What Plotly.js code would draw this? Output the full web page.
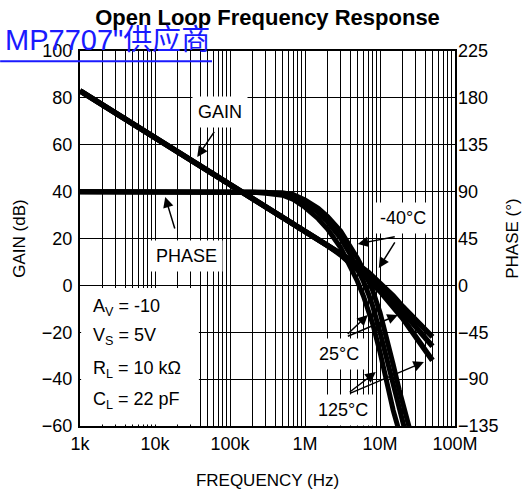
<!DOCTYPE html>
<html>
<head>
<meta charset="utf-8">
<script src="https://cdn.plot.ly/plotly-3.0.1.min.js"></script>
<style>html,body{margin:0;padding:0;background:#fff;}#chart{width:524px;height:494px;}</style>
</head>
<body>
<div id="chart"></div>
<script>
// ---- data ----
const gainFreq = [1e3, 1e4, 1e5, 1e6, 2e6, 3e6, 5e6, 7e6, 1e7, 1.5e7, 2e7, 3e7, 5e7];
const gainM40  = [83, 63, 43, 23.5, 17.5, 14, 9, 5.5, 1, -4.5, -9, -15, -22];
const gain25   = [83, 63, 43, 23.5, 17.3, 13.5, 8, 4, -0.5, -6.5, -11, -18, -26];
const gain125  = [83, 63, 43, 23.5, 17, 13, 7, 2.5, -2.5, -9, -14, -22, -32];

const phaseFreq = [1e3, 1e4, 1e5, 2e5, 3e5, 5e5, 7e5, 1e6, 1.5e6, 2e6, 3e6, 4e6, 5e6, 6e6, 7e6, 8e6, 1e7, 1.2e7, 1.5e7, 1.8e7, 2e7, 2.2e7, 2.5e7, 3e7];
const phaseM40 = [90, 90, 90, 90, 90, 89, 87, 82, 74, 66, 52, 38, 26, 15, 5, -5, -26, -47, -76, -100, -112, -123, -140, -160];
const phase25  = [90, 90, 90, 90, 89.5, 88, 85, 79, 70, 61, 45, 30, 16, 4, -8, -20, -45, -68, -98, -120, -132, -142, -160, -180];
const phase125 = [90, 90, 90, 89.5, 88.5, 86.5, 82.5, 75, 64, 54, 36, 19, 4, -10, -23, -37, -64, -90, -120, -140, -152, -162, -178, -195];

const xTickVals = [1e3, 1e4, 1e5, 1e6, 1e7, 1e8];
const xTickText = ['1k', '10k', '100k', '1M', '10M', '100M'];
const gainTicks = [-60, -40, -20, 0, 20, 40, 60, 80, 100];
const phaseTicks = [-135, -90, -45, 0, 45, 90, 135, 180, 225];

const conditions = ['A<sub>V</sub> = -10', 'V<sub>S</sub> = 5V', 'R<sub>L</sub> = 10 kΩ', 'C<sub>L</sub> = 22 pF'];

// minor log grid positions
const minorVals = [];
for (let d = 3; d < 8; d++) for (let m = 2; m <= 9; m++) minorVals.push(m * Math.pow(10, d));

const FONT = 'Liberation Sans, Arial, Helvetica, sans-serif';
const gLine = {color: 'black', width: 5.5};
const pLine = {color: 'black', width: 5};

const traces = [
  {x: gainFreq, y: gainM40, mode: 'lines', line: gLine, yaxis: 'y'},
  {x: gainFreq, y: gain25, mode: 'lines', line: gLine, yaxis: 'y'},
  {x: gainFreq, y: gain125, mode: 'lines', line: gLine, yaxis: 'y'},
  {x: phaseFreq, y: phaseM40, mode: 'lines', line: pLine, yaxis: 'y2'},
  {x: phaseFreq, y: phase25, mode: 'lines', line: pLine, yaxis: 'y2'},
  {x: phaseFreq, y: phase125, mode: 'lines', line: pLine, yaxis: 'y2'}
];

const L = Math.log10;
function arrow(xv, yv, ax, ay) {
  return {x: L(xv), y: yv, xref: 'x', yref: 'y', ax: ax, ay: ay, text: ' ', showarrow: true,
          arrowhead: 2, arrowsize: 1.4, arrowwidth: 1.5, arrowcolor: 'black', standoff: 0};
}
function label(xv, yv, txt) {
  return {x: L(xv), y: yv, xref: 'x', yref: 'y', text: txt, showarrow: false,
          bgcolor: 'white', borderpad: 5, font: {family: FONT, size: 18, color: 'black'}};
}

const annotations = [
  label(7.45e4, 74, 'GAIN'),
  arrow(3.66e4, 54.8, 21, -31),
  label(2.61e4, 12.5, 'PHASE'),
  arrow(1.37e4, 37.7, 13, 43),
  label(2.02e7, 28.8, '-40°C'),
  arrow(5.05e6, 17.7, 41, -8),
  arrow(9.64e6, 7.4, 20, -32),
  label(2.82e6, -29.3, '25°C'),
  arrow(6.87e6, -12.6, -24, 23),
  arrow(1.73e7, -12.6, -54, 23),
  label(3.18e6, -53.2, '125°C'),
  arrow(8.79e6, -37, -30, 23),
  arrow(3.85e7, -32.7, -78, 33),
  {x: -0.205, y: 1.03, xref: 'paper', yref: 'paper', xanchor: 'left', yanchor: 'middle',
   text: 'MP7707"供应商', showarrow: false,
   font: {family: 'Liberation Sans, Arial, Noto Sans CJK SC, sans-serif', size: 29, color: '#1a1aff'}}
];
const condY = [-9.5, -22, -36, -49];
conditions.forEach((c, i) => {
  annotations.push({x: 0.03, y: condY[i], xref: 'paper', yref: 'y', xanchor: 'left', yanchor: 'middle',
    text: c, showarrow: false, font: {family: FONT, size: 18, color: 'black'}});
});

const shapes = [
  {type: 'rect', xref: 'paper', yref: 'paper', x0: 0.003, x1: 0.317, y0: 0.004, y1: 0.368,
   fillcolor: 'white', line: {width: 0}, layer: 'above'},
  {type: 'line', xref: 'paper', yref: 'paper', x0: -0.213, x1: 0.352, y0: 0.973, y1: 0.973,
   line: {color: '#1a1aff', width: 2}}
];

const layout = {
  width: 524, height: 494,
  margin: {l: 80, r: 69, t: 51, b: 68},
  paper_bgcolor: 'white', plot_bgcolor: 'white',
  showlegend: false,
  font: {family: FONT, size: 18, color: 'black'},
  title: {text: '<b>Open Loop Frequency Response</b>', x: 0.5, xref: 'paper', xanchor: 'center',
          y: 0.965, yref: 'container', yanchor: 'middle', font: {family: FONT, size: 22, color: 'black'}},
  xaxis: {
    type: 'log', range: [3, 8], tickmode: 'array', tickvals: xTickVals, ticktext: xTickText,
    showgrid: true, gridcolor: 'black', gridwidth: 1,
    minor: {tickmode: 'array', tickvals: minorVals, showgrid: true, gridcolor: 'black', gridwidth: 1, ticks: ''},
    showline: true, mirror: true, linecolor: 'black', linewidth: 2, ticks: '', zeroline: false,
    tickfont: {size: 18}, ticklabelstandoff: 0,
    title: {text: 'FREQUENCY (Hz)', font: {size: 17}, standoff: 22}
  },
  yaxis: {
    range: [-60, 100], tickmode: 'array', tickvals: gainTicks,
    showgrid: true, gridcolor: 'black', gridwidth: 1, zeroline: false,
    showline: true, mirror: true, linecolor: 'black', linewidth: 2, ticks: '',
    tickfont: {size: 18}, ticklabelstandoff: 2,
    title: {text: 'GAIN (dB)', font: {size: 17}, standoff: 12}
  },
  yaxis2: {
    range: [-135, 225], tickmode: 'array', tickvals: phaseTicks, overlaying: 'y', side: 'right',
    showgrid: false, zeroline: false, showline: false, ticks: '',
    tickfont: {size: 18}, ticklabelstandoff: 2,
    title: {text: 'PHASE (°)', font: {size: 17}, standoff: 8}
  },
  annotations: annotations,
  shapes: shapes
};

Plotly.newPlot('chart', traces, layout, {displayModeBar: false, staticPlot: true});
</script>
</body>
</html>
